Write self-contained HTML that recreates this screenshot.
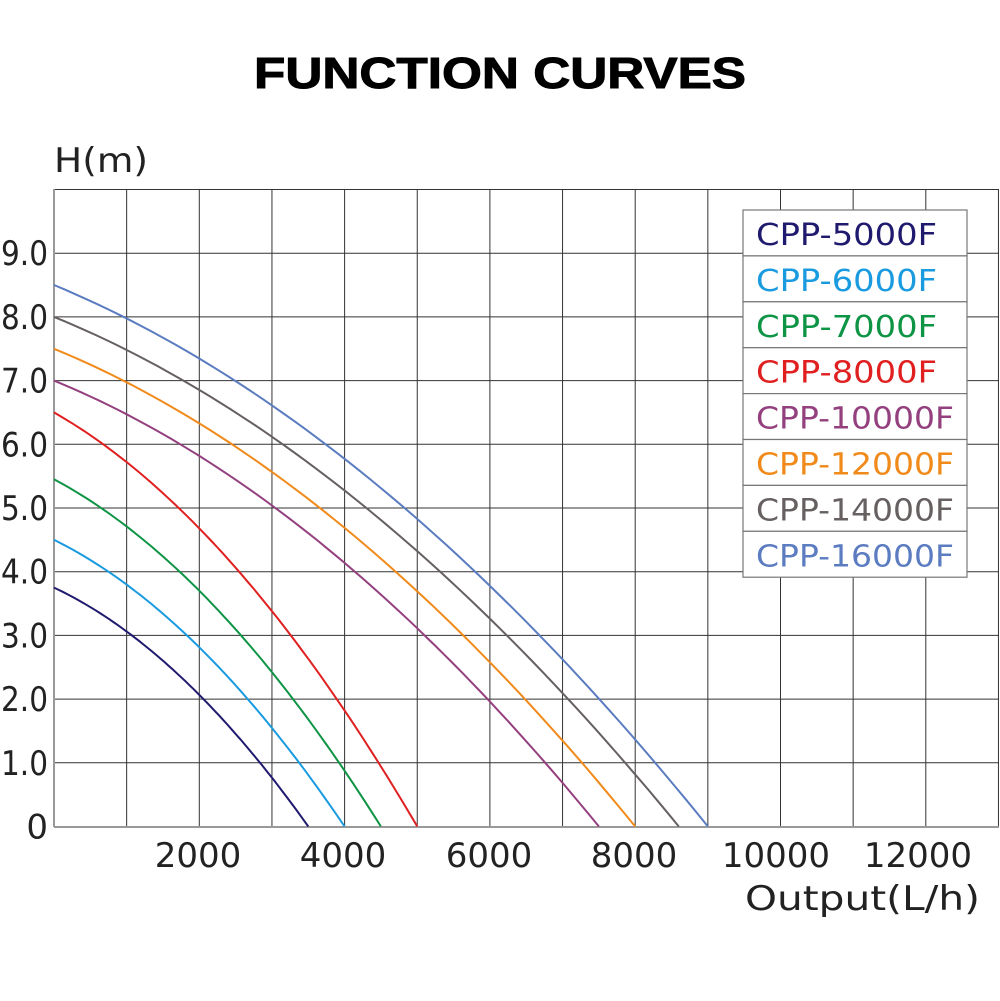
<!DOCTYPE html>
<html><head><meta charset="utf-8"><style>html,body{margin:0;padding:0;background:#fff}svg{display:block}</style></head>
<body>
<svg id="s" width="1000" height="1001" xmlns="http://www.w3.org/2000/svg" font-family="'DejaVu Sans','Liberation Sans',sans-serif">
<rect width="1000" height="1001" fill="#fff"/>
<text x="500" y="88" text-anchor="middle" font-family="'Liberation Sans',sans-serif" font-weight="bold" font-size="44" textLength="492" lengthAdjust="spacingAndGlyphs" fill="#000" stroke="#000" stroke-width="1">FUNCTION CURVES</text>
<text x="54" y="172" font-size="34" fill="#222" textLength="94" lengthAdjust="spacingAndGlyphs">H(m)</text>
<g id="grid" stroke="#333" stroke-width="1"></g>
<line x1="54" y1="189" x2="54" y2="827" stroke="#999" stroke-width="2"/>
<line x1="54" y1="827" x2="999" y2="827" stroke="#999" stroke-width="2"/>
<g id="curves" fill="none" stroke-width="2"></g>
<g id="ylab" font-size="34" fill="#222" text-anchor="end"></g>
<g font-size="34" fill="#222" text-anchor="middle">
<text x="198" y="867">2000</text><text x="343" y="867">4000</text><text x="489" y="867">6000</text><text x="634" y="867">8000</text><text x="776" y="867">10000</text><text x="918" y="867">12000</text>
</g>
<text x="745" y="910" font-size="34" fill="#222" textLength="235" lengthAdjust="spacingAndGlyphs">Output(L/h)</text>
<g id="leg"></g>
</svg>
<script>
var ns="http://www.w3.org/2000/svg";
function el(p,t,a,txt){var e=document.createElementNS(ns,t);for(var k in a)e.setAttribute(k,a[k]);if(txt)e.textContent=txt;document.getElementById(p).appendChild(e);return e;}
var X=function(q){return 54+q*0.07265;},Y=function(h){return 826.5-h*63.7;};
for(var i=1;i<=13;i++){var x=X(i*1000);el("grid","line",{x1:x,y1:189,x2:x,y2:827});}
for(var j=1;j<=10;j++){var y=Y(j);el("grid","line",{x1:54,y1:y,x2:999,y2:y});}
el("grid","line",{x1:54,y1:189.5,x2:999,y2:189.5});
var labs=["0","1.0","2.0","3.0","4.0","5.0","6.0","7.0","8.0","9.0"];
for(var j=0;j<10;j++){var a={x:48,y:Y(j)+12};if(j>0){a.textLength=47;a.lengthAdjust="spacingAndGlyphs";}el("ylab","text",a,labs[j]);}
var C=[[3.75,3500,"#1f1a6e","CPP-5000F"],[4.5,4000,"#1a9be0","CPP-6000F"],[5.45,4500,"#0e9445","CPP-7000F"],[6.5,5000,"#e02020","CPP-8000F"],[7.0,7500,"#94407f","CPP-10000F"],[7.5,8000,"#f08a1a","CPP-12000F"],[8.0,8600,"#666060","CPP-14000F"],[8.5,9000,"#5b7cc0","CPP-16000F"]];
C.forEach(function(c,k){var pts=[];for(var n=0;n<=60;n++){var t=n/60;var h=c[0]*(1-0.5*t-0.5*t*t);pts.push(X(t*c[1]).toFixed(1)+","+Y(h).toFixed(1));}
el("curves","polyline",{points:pts.join(" "),stroke:c[2]});
var ry=210+k*45.9;el("leg","rect",{x:743,y:ry,width:224,height:45.9,fill:"#fff",stroke:"#777","stroke-width":1.2});
el("leg","text",{x:756,y:ry+35,"font-size":30,fill:c[2],textLength:(c[3].length==9?181:198),lengthAdjust:"spacingAndGlyphs"},c[3]);});
</script>
</body></html>
